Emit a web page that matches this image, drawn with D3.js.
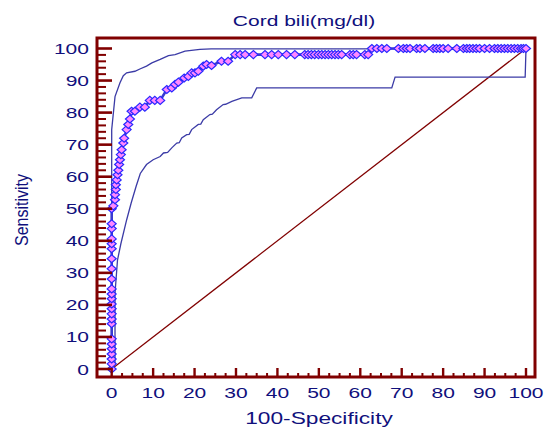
<!DOCTYPE HTML>
<html>
<head>
<meta charset="utf-8">
<title>Cord bili ROC</title>
<script src="https://d3js.org/d3.v7.min.js"></script>
<style>
  body { margin: 0; background: #fff; }
  text { font-family: "Liberation Sans", Arial, sans-serif; fill: #10107c; }
</style>
</head>
<body>
<svg id="chart" width="545" height="427"></svg>
<script>
// ROC curve points (100-Specificity, Sensitivity)
const rocX = [0, 0, 0, 0, 0, 0, 0, 0, 0, 0, 0, 0, 0, 0, 0, 0, 0, 0, 0, 0, 0, 0, 0, 0,
  0.4, 0.8, 0.8, 1, 1, 1.2, 1.4, 1.6, 1.8, 2, 2.2, 2.4, 2.8, 3, 3.6, 4, 4.4, 4.8, 5.6, 6.8, 8, 9.2, 10.4, 11.7,
  13.3, 14.5, 15.3, 16.1, 17.5, 18.5, 19.3, 20.1, 20.9, 22.1, 22.9, 24.1, 26.5, 28.1, 29.8,
  31, 32.2, 34.2, 37, 38.6, 40.2, 42.2, 44.2, 46.6, 47.4, 48.2, 49, 49.9, 50.7, 51.5, 52.3, 53.1, 53.9, 54.7, 55.5, 57.5, 58.3, 59.1, 61.1, 61.9,
  62.8, 64, 65.2, 66.4, 69.2, 70.4, 71.2, 72, 73.6, 74.4, 75.6, 77.6, 78.4, 79.2, 80, 81.2, 83.3, 84.9, 85.7, 86.4, 87.2, 88, 88.8, 90, 91.2, 92.4, 93.2, 94, 94.8, 95.6, 96.4, 97.2, 98, 98.8, 99.4, 100];
const rocY = [0, 1.6, 3.1, 4.7, 6.3, 7.8, 9.4, 14.1, 15.6, 17.2, 18.8, 20.3, 21.9, 23.4, 25, 28.1, 31.3, 34.4, 37.5, 39.1, 40.6, 43.8, 45.3, 50,
  50.9, 52.8, 54.4, 56, 57.5, 59, 60.6, 62, 63.8, 65.3, 66.9, 68.4, 70.5, 72, 74.7, 76.3, 78, 80.4, 80.4, 81.7, 81.7, 83.8, 83.8, 83.8,
  87.2, 87.7, 88.8, 89.5, 90.8, 91.3, 92.4, 92.4, 92.9, 94.5, 95, 94.7, 96, 96, 98.1,
  98.1, 98.1, 98.1, 98.1, 98.1, 98.1, 98.1, 98.1, 98.1, 98.1, 98.1, 98.1, 98.1, 98.1, 98.1, 98.1, 98.1, 98.1, 98.1, 98.1, 98.1, 98.1, 98.1, 98.1, 98.1,
  100, 100, 100, 100, 100, 100, 100, 100, 100, 100, 100, 100, 100, 100, 100, 100, 100, 100, 100, 100, 100, 100, 100, 100, 100, 100, 100, 100, 100, 100, 100, 100, 100, 100, 100, 100];

// upper confidence bound
const upperX = [0, 0, 0.8, 2, 2.8, 3.6, 5.6, 6.8, 8.4, 9.7, 11.7, 13.7, 15.3, 17.7, 21.3, 24, 57, 100];
const upperY = [0, 74.7, 85, 89.3, 91.5, 92.4, 92.9, 93.6, 94.5, 95.5, 96.6, 97.8, 98.1, 99.2, 99.7, 99.9, 99.9, 100];

// lower confidence bound (stepped)
const lowerX = [0, 0.8, 0.8, 1.4, 2.2, 3.6, 4.7, 5.9, 6.9, 8.4, 10, 11.7, 12.5, 13.5, 14.5, 15.7, 16.3, 16.9, 18.1, 18.7, 19.3, 20.9, 21.5, 22.1, 23.7, 24.3, 25.3, 26.9, 27.5, 29, 31.4, 33.8, 35, 67.6, 68.4, 99.8, 100];
const lowerY = [0, 2, 23.7, 34, 39, 46.5, 51.8, 57, 61, 63.8, 65.3, 66.3, 67.4, 67.6, 69, 70.5, 70.6, 72.1, 73.1, 73.2, 74.7, 76.3, 76.4, 77.8, 79.4, 79.5, 80.9, 82.5, 82.6, 83.5, 84.6, 84.6, 87.7, 87.7, 91.1, 91.1, 100];

const xTicks = [0, 10, 20, 30, 40, 50, 60, 70, 80, 90, 100];
const yTicks = [0, 10, 20, 30, 40, 50, 60, 70, 80, 90, 100];

const svg = d3.select("#chart");
const x = d3.scaleLinear().domain([0, 100]).range([111.7, 526]);
const y = d3.scaleLinear().domain([0, 100]).range([369, 48.5]);

const frame = { left: 97, top: 38, right: 535, bottom: 377 };
const maroon = "#800000";

// stretched text helper (the original is wide)
function label(txt, px, py, size, sx, anchor) {
    return svg.append("text")
        .attr("transform", `translate(${px},${py}) scale(${sx},1)`)
        .attr("text-anchor", anchor || "middle")
        .style("font-size", size + "px")
        .text(txt);
}

// diagonal
svg.append("line")
    .attr("x1", x(0)).attr("y1", y(0))
    .attr("x2", x(100)).attr("y2", y(100))
    .attr("stroke", maroon).attr("stroke-width", 1.2);

const line = d3.line().x(d => x(d[0])).y(d => y(d[1]));

// confidence bounds
[[upperX, upperY], [lowerX, lowerY]].forEach(([xs, ys]) => {
    svg.append("path")
        .datum(xs.map((v, i) => [v, ys[i]]))
        .attr("fill", "none")
        .attr("stroke", "#3b3ba6")
        .attr("stroke-width", 1.3)
        .attr("d", line);
});

const roc = rocX.map((v, i) => [v, rocY[i]]);
svg.append("path")
    .datum(roc)
    .attr("fill", "none")
    .attr("stroke", "#3a3ad0")
    .attr("stroke-width", 2.6)
    .attr("d", line);

svg.selectAll("path.pt")
    .data(roc)
    .enter().append("path")
    .attr("class", "pt")
    .attr("d", d => `M${x(d[0]) - 4.5},${y(d[1])}L${x(d[0])},${y(d[1]) - 4}L${x(d[0]) + 4.5},${y(d[1])}L${x(d[0])},${y(d[1]) + 4}Z`)
    .attr("fill", "#ff88ff")
    .attr("stroke", "#2828ff")
    .attr("stroke-width", 1.2);

// frame
svg.append("rect")
    .attr("x", frame.left).attr("y", frame.top)
    .attr("width", frame.right - frame.left).attr("height", frame.bottom - frame.top)
    .attr("fill", "none").attr("stroke", maroon).attr("stroke-width", 3);

// y ticks (inside, from left border)
d3.range(0, 101, 2).forEach(v => {
    const major = v % 10 === 0;
    svg.append("line")
        .attr("x1", frame.left).attr("x2", frame.left + (major ? 15 : 9))
        .attr("y1", y(v)).attr("y2", y(v))
        .attr("stroke", maroon).attr("stroke-width", major ? 2.6 : 2);
});
// x ticks (inside, from bottom border)
d3.range(0, 100.1, 2.5).forEach(v => {
    const major = v % 10 === 0;
    svg.append("line")
        .attr("x1", x(v)).attr("x2", x(v))
        .attr("y1", frame.bottom).attr("y2", frame.bottom - (major ? 9 : 4))
        .attr("stroke", maroon).attr("stroke-width", major ? 2.4 : 2);
});

yTicks.forEach(v => label(v, 89, y(v) + 5.5, 14.5, 1.45, "end"));
xTicks.forEach(v => label(v, x(v), 398, 14.5, 1.45, "middle"));

label("Cord bili(mg/dl)", 304, 26, 15, 1.4, "middle");
label("100-Specificity", 319, 424, 16, 1.42, "middle");

svg.append("text")
    .attr("transform", "translate(28,210) rotate(-90) scale(1,1.12)")
    .attr("text-anchor", "middle")
    .style("font-size", "16px")
    .text("Sensitivity");
</script>
</body>
</html>
